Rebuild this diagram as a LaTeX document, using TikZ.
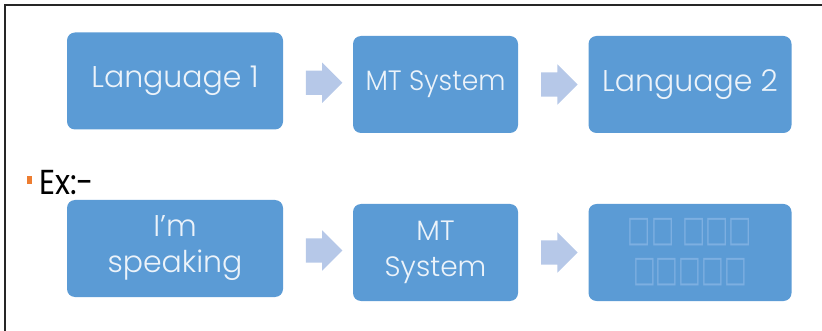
\documentclass[tikz,border=0pt]{standalone}
\usepackage{fontspec}
\setmainfont{Poppins}[UprightFont=* Light]
\newfontfamily\exfont{Poppins}
\newfontfamily\boxglyphs{DejaVu Sans}
\usetikzlibrary{shapes.arrows,calc}
\definecolor{boxblue}{RGB}{91,155,213}
\definecolor{boxtext}{RGB}{236,243,250}
\definecolor{arrowblue}{RGB}{182,200,232}
\definecolor{tofu}{RGB}{125,175,225}
\definecolor{bulletorange}{RGB}{237,125,49}
\tikzset{
  stepbox/.style={draw=none, fill=boxblue, rounded corners=8pt, text=boxtext,
    font=\fontsize{30}{36}\selectfont, align=center, inner sep=0pt},
  narrowtext/.style={font=\fontsize{28}{36}\selectfont},
  blockarrow/.style={single arrow, fill=arrowblue, draw=none, inner sep=12pt,
    minimum height=36pt, minimum width=40pt, single arrow head extend=8pt,
    shape border rotate=0}
}
\begin{document}
\begin{tikzpicture}[x=1pt,y=-1pt]
\useasboundingbox (0,0) rectangle (822,331);
\draw[line width=1.5pt, black!85] (5,331) -- (5,5) -- (822,5);
% row 1
\node[stepbox, minimum width=216pt, minimum height=97pt] (b1) at (175,81) {Language 1};
\node[stepbox, narrowtext, minimum width=165pt, minimum height=97pt] (b2) at (435.5,84.5) {\scalebox{0.95}[1]{MT System}};
\node[stepbox, minimum width=203pt, minimum height=97pt] (b3) at (690,84.5) {Language 2};
\node[blockarrow] (a1) at ($(b1.east)!0.5!(b2.west)$) {};
\node[blockarrow] (a2) at ($(b2.east)!0.5!(b3.west)$) {};
% Ex
\node[fill=bulletorange, minimum width=5pt, minimum height=8pt, inner sep=0pt] (bul) at (29,180) {};
\node[anchor=base west, inner sep=0pt, font=\exfont\fontsize{33}{36}\selectfont, text=black] (ex) at (39,195) {\scalebox{0.95}[1.05]{Ex:-}};
% row 2
\node[stepbox, minimum width=216pt, minimum height=97pt] (b4) at (175,248.5) {I’m\\speaking};
\node[stepbox, narrowtext, minimum width=165pt, minimum height=97pt] (b5) at (435.5,252.5) {MT\\System};
\node[stepbox, minimum width=203pt, minimum height=97pt, text=tofu] (b6) at (690,252.5) {\boxglyphs\scalebox{0.82}[1.2]{□□ □□□}\\[4pt]\boxglyphs\scalebox{0.8}[1.2]{□□□□□}};
\node[blockarrow] (a3) at ($(b4.east)!0.5!(b5.west)$) {};
\node[blockarrow] (a4) at ($(b5.east)!0.5!(b6.west)$) {};
\end{tikzpicture}
\end{document}
